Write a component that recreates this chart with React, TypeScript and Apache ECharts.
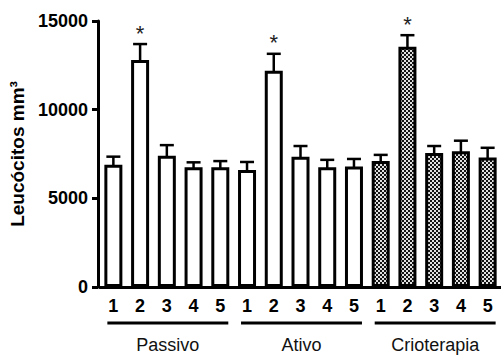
import React, { useEffect, useRef } from 'react';
import * as echarts from 'echarts';

const groups = ['Passivo', 'Ativo', 'Crioterapia'];
const sessions = ['1', '2', '3', '4', '5'];
const passivoMean = [6900, 12800, 7400, 6750, 6750];
const passivoSem = [450, 900, 600, 280, 350];
const ativoMean = [6600, 12200, 7350, 6750, 6800];
const ativoSem = [450, 950, 600, 420, 420];
const crioMean = [7100, 13550, 7550, 7650, 7300];
const crioSem = [350, 650, 400, 600, 550];
const passivoStar = [false, true, false, false, false];
const ativoStar = [false, true, false, false, false];
const crioStar = [false, true, false, false, false];
const yTitle = 'Leucócitos mm³';

export default function App() {
  const ref = useRef<HTMLDivElement>(null);
  useEffect(() => {
    const chart = echarts.init(ref.current!, null, { renderer: 'svg' });
    const canvas = document.createElement('canvas');
    canvas.width = 4;
    canvas.height = 4;
    const ctx = canvas.getContext('2d')!;
    ctx.fillStyle = '#141414';
    ctx.fillRect(0, 0, 4, 4);
    ctx.fillStyle = '#e0e0e0';
    ctx.fillRect(0, 0, 2, 2);
    ctx.fillRect(2, 2, 2, 2);
    const pattern: any = { image: canvas, repeat: 'repeat' };

    const means = [passivoMean, ativoMean, crioMean];
    const sems = [passivoSem, ativoSem, crioSem];
    const stars = [passivoStar, ativoStar, crioStar];
    const categories: string[] = [];
    const barData: any[] = [];
    const errData: any[] = [];
    means.forEach((m, g) =>
      m.forEach((v, i) => {
        const idx = g * sessions.length + i;
        categories.push(sessions[i]);
        barData.push({ value: v, itemStyle: { color: g === 2 ? pattern : '#ffffff' } });
        errData.push([idx, v - sems[g][i], v + sems[g][i], stars[g][i] ? 1 : 0]);
      })
    );
    const groupData = groups.map((name, g) => ({
      name,
      value: [g * sessions.length, g * sessions.length + sessions.length - 1],
    }));

    const font = '"Liberation Sans", Arial, sans-serif';
    const blk = '#000000';

    chart.setOption({
      animation: false,
      backgroundColor: '#ffffff',
      grid: { left: 100, top: 21, width: 404, height: 266 },
      xAxis: {
        type: 'category',
        data: categories,
        axisLine: { lineStyle: { color: blk, width: 3 } },
        axisTick: { alignWithLabel: true, length: 6, lineStyle: { color: blk, width: 2 } },
        axisLabel: { color: blk, fontFamily: font, fontWeight: 'bold', fontSize: 18, margin: 10, interval: 0 },
      },
      yAxis: {
        type: 'value',
        min: 0,
        max: 15000,
        interval: 5000,
        offset: 2,
        name: yTitle,
        nameLocation: 'middle',
        nameGap: 62,
        nameTextStyle: { color: blk, fontFamily: font, fontWeight: 'bold', fontSize: 19 },
        axisLine: { show: true, lineStyle: { color: blk, width: 3 } },
        axisTick: { show: true, length: 6, lineStyle: { color: blk, width: 3 } },
        axisLabel: {
          color: blk,
          fontFamily: font,
          fontWeight: 'bold',
          fontSize: 18,
          margin: 10,
          formatter: (v: number) => String(v),
        },
        splitLine: { show: false },
      },
      series: [
        {
          type: 'bar',
          data: barData,
          barWidth: 18,
          itemStyle: { borderColor: blk, borderWidth: 3 },
        },
        {
          type: 'custom',
          data: errData,
          encode: { x: 0, y: [1, 2] },
          clip: false,
          renderItem: (params: any, api: any) => {
            const x = api.value(0);
            const lo = api.coord([x, api.value(1)]);
            const hi = api.coord([x, api.value(2)]);
            const cap = 7;
            const st = { stroke: blk, lineWidth: 2.5 };
            const children: any[] = [
              { type: 'line', shape: { x1: lo[0], y1: lo[1], x2: hi[0], y2: hi[1] }, style: st },
              { type: 'line', shape: { x1: hi[0] - cap, y1: hi[1], x2: hi[0] + cap, y2: hi[1] }, style: st },
              { type: 'line', shape: { x1: lo[0] - cap, y1: lo[1], x2: lo[0] + cap, y2: lo[1] }, style: st },
            ];
            if (api.value(3)) {
              children.push({
                type: 'text',
                x: hi[0],
                y: hi[1] - 11,
                style: { text: '*', fill: '#222', font: `22px ${font}`, align: 'center', verticalAlign: 'middle' },
              });
            }
            return { type: 'group', children };
          },
        },
        {
          type: 'custom',
          data: groupData,
          encode: { x: [0, 1] },
          clip: false,
          renderItem: (params: any, api: any) => {
            const p1 = api.coord([api.value(0), 0]);
            const p2 = api.coord([api.value(1), 0]);
            const y0 = p1[1];
            return {
              type: 'group',
              children: [
                {
                  type: 'line',
                  shape: { x1: p1[0] - 6, y1: y0 + 36, x2: p2[0] + 8, y2: y0 + 36 },
                  style: { stroke: blk, lineWidth: 3 },
                },
                {
                  type: 'text',
                  x: (p1[0] - 6 + p2[0] + 8) / 2,
                  y: y0 + 58,
                  style: {
                    text: groups[params.dataIndex],
                    fill: '#111',
                    font: `18px ${font}`,
                    align: 'center',
                    verticalAlign: 'middle',
                  },
                },
              ],
            };
          },
        },
      ],
    });
    return () => chart.dispose();
  }, []);
  return (
    <div
      ref={ref}
      style={{ position: 'fixed', left: 0, top: 0, width: 501, height: 356, background: '#fff' }}
    />
  );
}
